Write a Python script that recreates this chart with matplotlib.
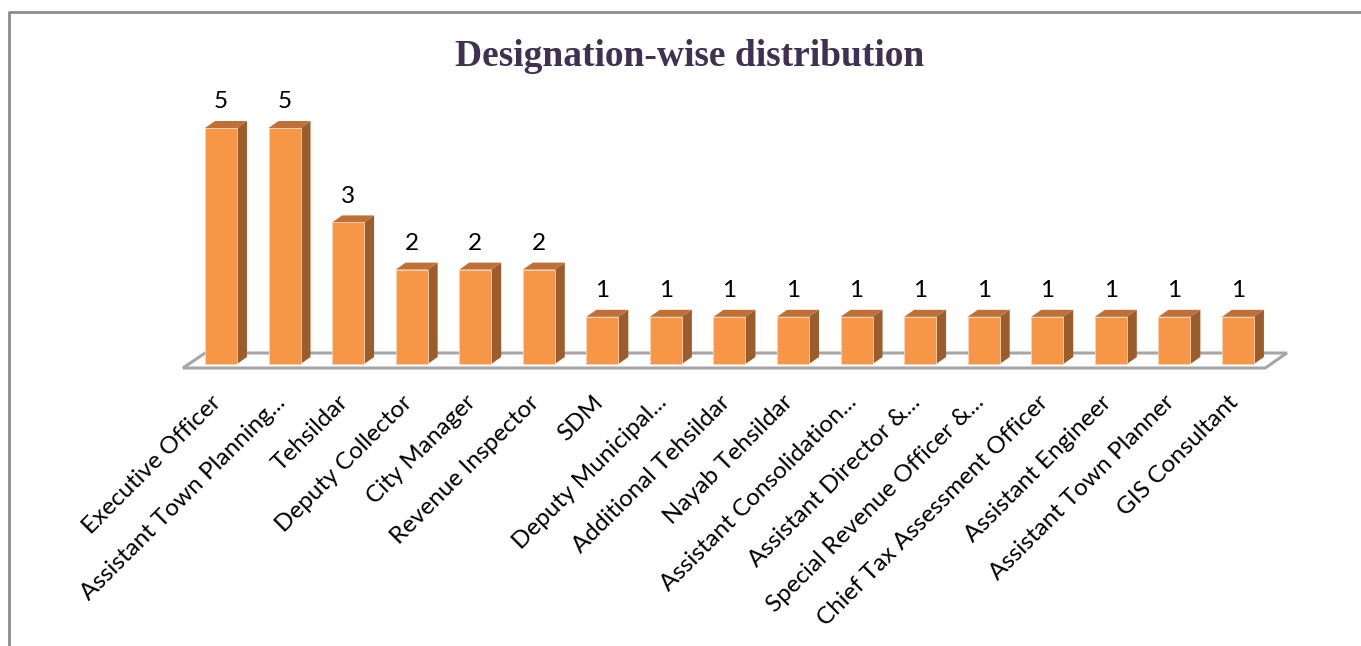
import matplotlib.pyplot as plt
from matplotlib.patches import Polygon
from matplotlib.lines import Line2D

designations = [
    "Executive Officer", "Assistant Town Planning...", "Tehsildar",
    "Deputy Collector", "City Manager", "Revenue Inspector", "SDM",
    "Deputy Municipal...", "Additional Tehsildar", "Nayab Tehsildar",
    "Assistant Consolidation...", "Assistant Director &...",
    "Special Revenue Officer &...", "Chief Tax Assessment Officer",
    "Assistant Engineer", "Assistant Town Planner", "GIS Consultant",
]
counts = [5, 5, 3, 2, 2, 2, 1, 1, 1, 1, 1, 1, 1, 1, 1, 1, 1]

front_col = "#F79646"
top_col = "#BE7037"
side_col = "#9C5D2C"

W, H = 1361, 646
fig = plt.figure(figsize=(W / 100, H / 100), dpi=100)

# axes placed so that category spacing / value scale match the original
step = 63.56
unit = 47.2
ax = fig.add_axes([(221 - step / 2) / W, (H - 364) / H,
                   17 * step / W, 5.5 * unit / H])
ax.set_xlim(-0.5, 16.5)
ax.set_ylim(0, 5.5)
ax.axis("off")

bw = 0.503          # front face width
dx, dy = 0.157, 0.148  # depth offset

# floor
floor = Polygon([(-0.598, -0.085), (16.43, -0.085), (16.77, 0.233), (-0.25, 0.233)],
                closed=True, facecolor="white", edgecolor="#A6A6A6", lw=2.2,
                clip_on=False, zorder=1)
ax.add_patch(floor)

for i, v in enumerate(counts):
    x0, x1 = i - bw / 2, i + bw / 2
    side = Polygon([(x1, 0), (x1 + dx, dy), (x1 + dx, v + dy), (x1, v)],
                   closed=True, facecolor=side_col, edgecolor="none",
                   clip_on=False, zorder=2)
    top = Polygon([(x0, v), (x1, v), (x1 + dx, v + dy), (x0 + dx, v + dy)],
                  closed=True, facecolor=top_col, edgecolor="none",
                  clip_on=False, zorder=2)
    front = Polygon([(x0, 0), (x1, 0), (x1, v), (x0, v)], closed=True,
                    facecolor=front_col, edgecolor="#FBD3B3", lw=0.6,
                    clip_on=False, zorder=3)
    for p in (side, top, front):
        ax.add_patch(p)
    ax.text(i, v + 0.33, str(v), ha="center", va="bottom", fontsize=17.5,
            family="Lato", color="black", clip_on=False)

for i, name in enumerate(designations):
    ax.annotate(name, xy=(i, 0), xytext=(-3, -35), textcoords="offset pixels",
                rotation=45, ha="right", va="center", rotation_mode="anchor",
                fontsize=17.5, family="Lato", color="black",
                annotation_clip=False)

fig.text(690 / W, 1 - 56 / H, "Designation-wise distribution", ha="center",
         va="center", fontsize=27, fontweight="bold", family="Liberation Serif",
         color="#403152")

# outer chart border (only top and left visible)
fig.add_artist(Line2D([9 / W, 9 / W, 1.01], [-0.01, 1 - 12 / H, 1 - 12 / H],
                      transform=fig.transFigure, color="#8C8C8C", lw=2))

fig.savefig("out.png", dpi=100)
